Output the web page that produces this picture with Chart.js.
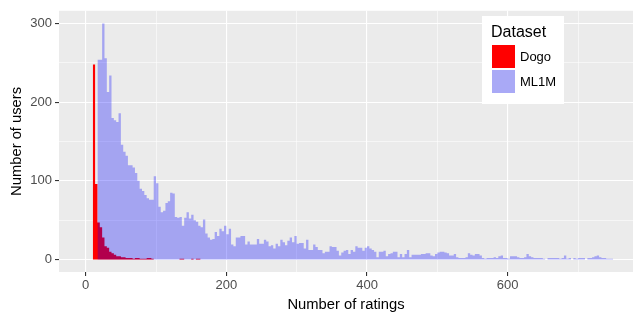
<!DOCTYPE html>
<html>
<head>
<meta charset="utf-8">
<script src="https://cdn.jsdelivr.net/npm/chart.js@4/dist/chart.umd.min.js"></script>
<style>
  html, body { margin: 0; padding: 0; background: #fff; }
  #wrap { width: 633px; height: 312px; position: relative; }
</style>
</head>
<body>
<div id="wrap"><canvas id="hist"></canvas></div>
<script>
// Histogram bins (number of ratings per user)
const binStart = 10;
const binWidth = 10 / 3;

// Dogo counts, first bin starts at binStart
const dogoCounts = [248, 96, 47, 41, 28, 17, 15, 10, 8, 6, 4, 4, 3, 3, 2, 2, 2, 1, 2, 2,
  1, 1, 1, 2, 2, 1, 0, 0, 0, 0, 0, 0, 0, 0, 0, 0, 0, 1, 1, 0, 0, 0, 1, 0, 1, 1];

// ML1M counts, first bin is bin number 2
const ml1mFirstBin = 2;
const ml1mCounts = [
  254, 254, 300, 256, 213, 234, 180, 177, 175, 186,
  146, 137, 132, 120, 120, 117, 110, 100, 90, 87,
  82, 78, 76, 76, 106, 97, 67, 60, 62, 72,
  74, 85, 84, 54, 53, 54, 43, 53, 60, 52,
  57, 50, 48, 43, 41, 51, 33, 28, 25, 26,
  35, 30, 39, 36, 43, 32, 39, 19, 17, 28,
  28, 30, 30, 19, 23, 19, 19, 19, 26, 20,
  20, 25, 23, 17, 18, 14, 20, 17, 25, 22,
  18, 24, 28, 22, 30, 20, 21, 21, 14, 25,
  12, 12, 19, 16, 12, 12, 8, 10, 10, 17,
  16, 16, 11, 5, 9, 11, 12, 7, 12, 10,
  17, 15, 15, 11, 15, 17, 14, 12, 10, 3,
  10, 10, 11, 4, 7, 8, 10, 10, 3, 7,
  3, 7, 12, 3, 6, 6, 6, 6, 7, 7,
  8, 8, 5, 4, 7, 9, 10, 10, 9, 8,
  5, 5, 7, 3, 2, 2, 2, 3, 8, 6,
  5, 7, 7, 5, 2, 1, 2, 2, 2, 3,
  2, 4, 5, 2, 2, 1, 4, 4, 4, 3,
  2, 2, 3, 7, 4, 3, 2, 2, 2, 2,
  1, 0, 2, 2, 2, 2, 2, 1, 2, 5,
  1, 2, 0, 2, 1, 2, 2, 2, 0, 2,
  2, 3, 4, 5, 3, 2, 2, 1, 1, 1
];

const datasetNames = ["Dogo", "ML1M"];
const xTicks = [0, 100, 200, 300, 400, 500, 600, 700];
const yTicks = [0, 50, 100, 150, 200, 250, 300];

const FONT = "'Liberation Sans', Arial, Helvetica, sans-serif";

// one point per bin left edge, plus the closing right edge,
// drawn as a filled step line so the bars have no seams
function toStepPoints(counts, firstBin) {
  const pts = counts.map((c, i) => ({ x: binStart + (firstBin + i) * binWidth, y: c }));
  pts.push({ x: binStart + (firstBin + counts.length) * binWidth, y: 0 });
  return pts;
}

// grey panel background
const panelBg = {
  id: "panelBg",
  beforeDraw(chart) {
    const { ctx, chartArea: a } = chart;
    ctx.save();
    ctx.fillStyle = "#EBEBEB";
    ctx.fillRect(a.left, a.top, a.right - a.left, a.bottom - a.top);
    ctx.restore();
  }
};

// ggplot style legend inside the panel
const insideLegend = {
  id: "insideLegend",
  afterDraw(chart) {
    const ctx = chart.ctx;
    const ds = chart.data.datasets;
    ctx.save();
    ctx.fillStyle = "#fff";
    ctx.fillRect(482, 16, 82, 88);
    ctx.fillStyle = "#000";
    ctx.font = "16px " + FONT;
    ctx.textBaseline = "alphabetic";
    ctx.fillText("Dataset", 491, 37);
    ctx.font = "13px " + FONT;
    ctx.textBaseline = "middle";
    [0, 1].forEach((i) => {
      const y = 45 + i * 25;
      ctx.fillStyle = "#F2F2F2";
      ctx.fillRect(492, y, 23, 23);
      ctx.fillStyle = ds[i].backgroundColor;
      ctx.fillRect(492, y, 23, 23);
      ctx.fillStyle = "#000";
      ctx.fillText(ds[i].label, 520, y + 12);
    });
    ctx.restore();
  }
};

const majorX = (v) => v % 200 === 0;
const majorY = (v) => v % 100 === 0;

new Chart(document.getElementById("hist"), {
  type: "line",
  data: {
    datasets: [
      {
        label: datasetNames[0],
        data: toStepPoints(dogoCounts, 0),
        backgroundColor: "#FF0000",
        order: 1
      },
      {
        label: datasetNames[1],
        data: toStepPoints(ml1mCounts, ml1mFirstBin),
        backgroundColor: "rgba(0, 0, 255, 0.3)",
        order: 0
      }
    ]
  },
  options: {
    responsive: true,
    maintainAspectRatio: false,
    animation: false,
    events: [],
    elements: {
      line: { stepped: "before", fill: "origin", tension: 0, borderWidth: 0, borderColor: "rgba(0,0,0,0)" },
      point: { radius: 0, hoverRadius: 0 }
    },
    layout: { padding: { top: 7, right: 0, bottom: 0, left: 0 } },
    plugins: { legend: { display: false }, tooltip: { enabled: false } },
    scales: {
      x: {
        type: "linear",
        min: -38,
        max: 778.2,
        afterFit: (s) => { s.height = 40; },
        afterBuildTicks: (s) => { s.ticks = xTicks.map((v) => ({ value: v })); },
        border: { display: false },
        grid: {
          color: "#FFFFFF",
          lineWidth: (c) => (majorX(c.tick.value) ? 1.1 : 0.55),
          tickColor: (c) => (majorX(c.tick.value) ? "#333333" : "rgba(0,0,0,0)"),
          tickWidth: 1.1,
          tickLength: 4
        },
        ticks: {
          autoSkip: false,
          maxRotation: 0,
          padding: 2,
          color: "#4D4D4D",
          font: { family: FONT, size: 13 },
          callback: (v) => (majorX(v) ? v : "")
        },
        title: {
          display: true,
          text: "Number of ratings",
          color: "#000",
          font: { family: FONT, size: 14.75 },
          padding: { top: 0, bottom: -2 }
        }
      },
      y: {
        min: -15.9,
        max: 316.3,
        afterFit: (s) => { s.width = 59; },
        afterBuildTicks: (s) => { s.ticks = yTicks.map((v) => ({ value: v })); },
        border: { display: false },
        grid: {
          color: "#FFFFFF",
          lineWidth: (c) => (majorY(c.tick.value) ? 1.1 : 0.55),
          tickColor: (c) => (majorY(c.tick.value) ? "#333333" : "rgba(0,0,0,0)"),
          tickWidth: 1.1,
          tickLength: 4
        },
        ticks: {
          autoSkip: false,
          padding: 3,
          color: "#4D4D4D",
          font: { family: FONT, size: 13 },
          callback: (v) => (majorY(v) ? v : "")
        },
        title: {
          display: true,
          text: "Number of users",
          color: "#000",
          font: { family: FONT, size: 14.75 },
          padding: { top: 8, bottom: 0 }
        }
      }
    }
  },
  plugins: [panelBg, insideLegend]
});
</script>
</body>
</html>
